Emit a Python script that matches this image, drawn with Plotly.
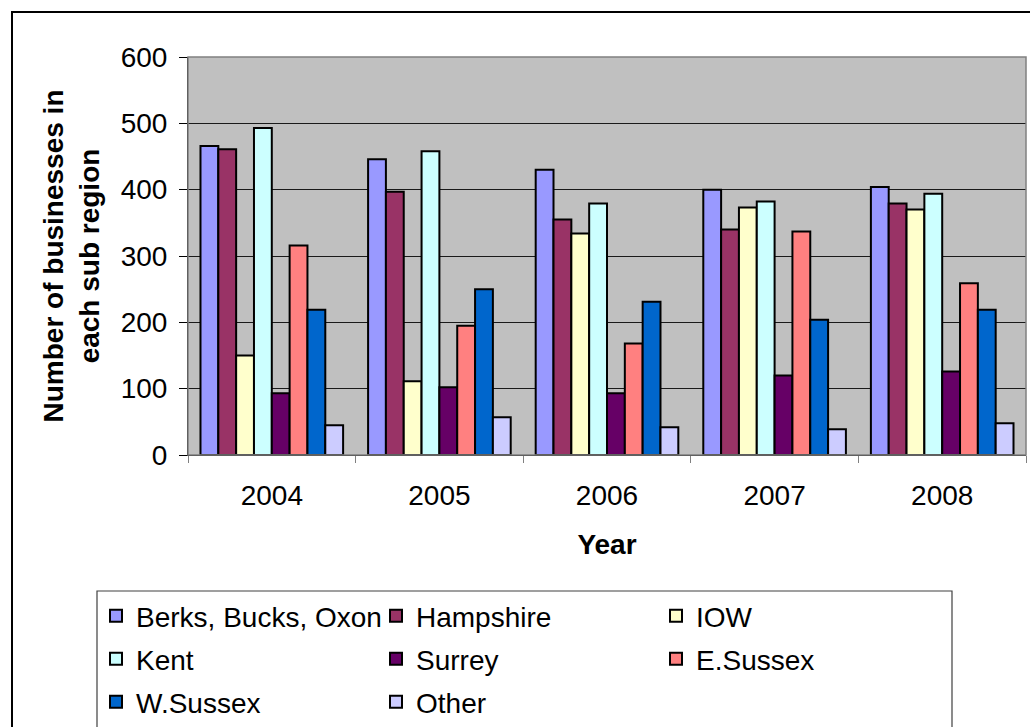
import plotly.graph_objects as go

years = ["2004", "2005", "2006", "2007", "2008"]
series_names = ["Berks, Bucks, Oxon", "Hampshire", "IOW", "Kent", "Surrey",
                "E.Sussex", "W.Sussex", "Other"]
berks = [466, 446, 430, 400, 404]
hampshire = [461, 397, 355, 340, 379]
iow = [150, 111, 334, 373, 370]
kent = [493, 458, 379, 382, 394]
surrey = [93, 102, 93, 120, 126]
esussex = [316, 195, 168, 337, 259]
wsussex = [219, 250, 231, 204, 219]
other = [45, 57, 42, 39, 48]
values = [berks, hampshire, iow, kent, surrey, esussex, wsussex, other]
colors = ["#9999FF", "#993366", "#FFFFCC", "#CCFFFF", "#660066",
          "#FF8080", "#0066CC", "#CCCCFF"]
legend_rows = ["legend", "legend", "legend", "legend2", "legend2", "legend2",
               "legend3", "legend3"]

FONT = "Liberation Sans, Arial, sans-serif"
FS = 28
W, H = 1030, 727
L, R, T, B = 188, 4, 57, 272
pw, ph = W - L - R, H - T - B

def px(x):
    return (x - L) / pw

def py(y):
    return (H - B - y) / ph

fig = go.Figure()
for name, vals, col, lg in zip(series_names, values, colors, legend_rows):
    fig.add_trace(go.Bar(x=years, y=vals, name=name, legend=lg,
                         marker=dict(color=col, line=dict(color="#000000", width=2))))

def leg(ycenter):
    return dict(orientation="h", x=px(96), y=py(ycenter), xanchor="left", yanchor="middle",
                entrywidth=235, entrywidthmode="pixels",
                font=dict(family=FONT, size=FS), bgcolor="rgba(0,0,0,0)",
                borderwidth=0, itemwidth=30)

fig.update_layout(
    width=W, height=H,
    margin=dict(l=L, r=R, t=T, b=B, autoexpand=False),
    paper_bgcolor="white",
    plot_bgcolor="#C0C0C0",
    barmode="group",
    bargap=0.149,
    bargroupgap=0,
    font=dict(family=FONT, size=FS, color="#000000"),
    showlegend=True,
    legend=leg(616),
    legend2=leg(659),
    legend3=leg(702),
    xaxis=dict(
        type="category", showgrid=False, tickson="boundaries", ticks="outside",
        ticklen=7, tickcolor="#808080", showline=True, linecolor="#000000", linewidth=1,
        tickfont=dict(family=FONT, size=FS), ticklabelstandoff=15,
        title=dict(text="<b>Year</b>", font=dict(family=FONT, size=FS), standoff=24),
    ),
    yaxis=dict(
        range=[0, 600], dtick=100, showgrid=True, gridcolor="#1a1a1a", gridwidth=1,
        ticks="outside", ticklen=8, tickcolor="#000000", showline=True,
        linecolor="#000000", linewidth=1, tickfont=dict(family=FONT, size=FS),
        ticklabelstandoff=6, zeroline=False,
        title=dict(text="<b>Number of businesses in<br>each sub region</b>",
                   font=dict(family=FONT, size=FS), standoff=12),
    ),
    shapes=[
        dict(type="rect", xref="paper", yref="paper", x0=0, x1=1, y0=0, y1=1,
             line=dict(color="#808080", width=1.5), fillcolor="rgba(0,0,0,0)", layer="above"),
        dict(type="rect", xref="paper", yref="paper", x0=px(12), x1=px(1045),
             y0=py(745), y1=py(12), line=dict(color="#000000", width=2),
             fillcolor="rgba(0,0,0,0)"),
        dict(type="rect", xref="paper", yref="paper", x0=px(97), x1=px(952),
             y0=py(745), y1=py(591), line=dict(color="#404040", width=1.2),
             fillcolor="rgba(0,0,0,0)"),
    ],
)

fig.write_html("out.html")
